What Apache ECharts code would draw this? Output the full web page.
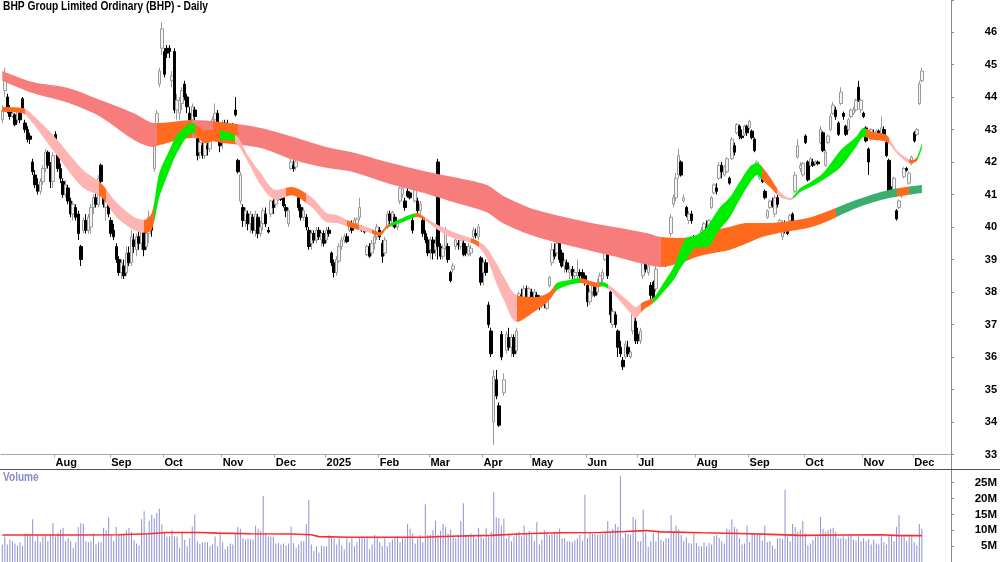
<!DOCTYPE html>
<html>
<head>
<meta charset="utf-8">
<title>BHP Group Limited Ordinary (BHP) - Daily</title>
<script src="https://cdn.jsdelivr.net/npm/echarts@6/dist/echarts.min.js"></script>
<style>
  html, body { margin: 0; padding: 0; background: #fff; }
  #chart { width: 1000px; height: 562px; }
</style>
</head>
<body>
<div id="chart"></div>
<script>
// daily bars: [open, close, low, high, volume in millions], one array per month
const jul24 = [
  [43.3,43.6,43.2,43.75,5.5],[44.2,44.7,44.0,44.9,8.0],[44.0,43.55,43.5,44.1,5.5],[43.6,43.4,43.3,43.75,7.0],
  [43.4,43.5,43.35,43.6,6.5],[43.45,43.15,43.1,43.5,5.8],[43.3,43.6,43.2,43.65,5.2],[43.5,43.3,43.2,43.6,6.2],
  [43.95,43.6,43.55,44.0,5.0],[43.2,43.0,42.9,43.3,9.0],[43.0,42.7,42.6,43.1,9.0],[42.8,42.7,42.55,42.9,9.0],
  [42.0,41.7,41.6,42.1,13.5],[41.6,41.3,41.2,41.75,6.5],[41.3,41.1,41.0,41.5,8.5],[41.1,41.4,41.0,41.5,6.2],
  [41.4,41.8,41.3,41.9,8.0],[41.8,42.3,41.7,42.4,8.5],[42.3,41.9,41.8,42.35,6.5],[41.9,41.4,41.2,42.0,8.8],
  [41.4,42.2,41.2,42.3,12.3]
];
const aug24 = [
  [42.85,42.5,42.45,42.95,8.0],[42.3,41.8,41.7,42.4,9.2],[41.8,41.5,41.35,41.95,10.2],[41.4,41.0,40.9,41.5,10.8],
  [41.0,41.3,40.9,41.45,6.5],[41.2,40.8,40.7,41.3,7.5],[40.8,40.4,40.3,40.9,6.5],[40.4,40.7,40.2,40.8,4.5],
  [40.6,40.3,40.2,40.7,6.2],[40.4,39.8,39.6,40.5,11.0],[39.4,39.0,38.8,39.45,12.2],[39.9,40.2,39.8,40.3,12.0],
  [40.2,39.9,39.8,40.4,6.5],[39.9,40.3,39.8,40.4,6.2],[40.0,40.6,39.8,40.7,6.5],[40.6,40.9,40.4,41.0,9.0],
  [40.9,40.7,40.6,41.1,5.5],[40.7,41.5,40.6,41.6,6.2],[41.9,41.4,41.3,41.95,6.2],[41.0,40.7,40.6,41.1,10.8],
  [40.6,40.8,40.2,40.9,10.0],[40.7,40.4,40.3,40.8,14.0]
];
const sep24 = [
  [40.2,39.8,39.7,40.3,8.5],[39.9,39.7,39.6,40.1,6.5],[39.4,39.0,38.9,39.5,11.0],[39.0,38.6,38.5,39.1,8.8],
  [38.6,38.9,38.4,39.0,8.8],[38.8,38.5,38.4,39.0,9.0],[38.6,39.2,38.5,39.4,10.0],[39.2,38.9,38.8,39.4,10.7],
  [38.9,39.7,38.8,39.9,9.5],[39.6,39.4,39.2,39.8,7.0],[39.3,39.7,39.1,39.8,5.8],[39.7,39.5,39.3,39.9,5.2],
  [39.5,39.9,39.3,40.1,13.5],[39.9,39.3,39.1,40.0,16.0],[39.4,39.8,39.3,40.0,9.0],[39.8,40.3,39.5,40.5,13.0],
  [40.2,39.9,39.7,40.4,14.8],[41.8,42.7,41.7,42.8,13.8],[42.9,43.5,42.8,43.6,15.5],[44.4,44.8,44.3,44.9,16.8],
  [45.5,46.1,45.3,46.3,11.8]
];
const oct24 = [
  [45.4,44.7,44.6,45.5,9.5],[45.5,45.35,45.2,45.6,8.0],[45.5,45.4,45.2,45.6,8.0],[44.5,44.65,44.3,44.8,10.0],
  [45.4,43.6,43.5,45.5,8.0],[43.6,43.9,43.3,44.1,8.0],[43.5,43.9,43.3,44.0,4.5],[43.8,44.2,43.6,44.3,9.5],
  [44.4,44.0,43.9,44.5,7.0],[44.0,43.7,43.5,44.1,5.0],[43.5,43.3,43.2,43.7,7.5],[43.3,43.7,43.2,43.8,11.2],
  [43.6,43.4,43.2,43.7,15.0],[42.9,42.2,42.05,43.0,6.5],[42.3,42.6,42.1,42.7,5.8],[42.5,42.2,42.1,42.6,6.2],
  [42.2,42.6,42.1,42.7,6.2],[42.5,42.4,42.2,42.6,6.2],[42.4,42.7,42.3,42.8,5.0],[42.9,43.3,42.8,43.4,5.5],
  [43.3,43.5,43.0,43.8,8.0],[43.5,42.9,42.8,43.6,5.0],[42.9,42.5,42.3,43.1,9.5]
];
const nov24 = [
  [42.6,43.2,42.4,43.3,6.2],[43.2,42.9,42.6,43.3,4.0],[42.9,42.7,42.6,43.3,5.0],[42.8,43.1,42.7,43.2,5.8],
  [43.0,42.9,42.7,43.2,5.5],[43.6,43.45,43.4,44.0,9.0],[42.05,41.7,41.65,42.1,11.0],[40.8,41.6,40.7,41.7,10.5],
  [40.6,40.2,40.0,40.7,7.5],[40.2,40.5,40.0,40.6,7.0],[40.4,40.1,39.9,40.5,7.5],[40.1,40.4,39.8,40.5,7.2],
  [40.3,39.9,39.8,40.4,7.0],[39.9,40.4,39.7,40.5,11.5],[40.3,39.8,39.65,40.4,10.5],[39.8,40.0,39.7,40.2,9.8],
  [40.1,40.5,39.9,40.6,20.8],[40.4,40.1,40.0,40.6,9.0],[39.9,39.85,39.8,40.0,8.0],[40.4,40.8,40.3,40.85,8.0],
  [40.8,40.6,40.4,40.9,8.0]
];
const dec24 = [
  [40.7,40.9,40.6,41.0,5.8],[40.9,41.05,40.8,41.1,6.0],[41.0,40.85,40.8,41.1,5.5],[40.9,40.65,40.6,40.95,5.8],
  [40.6,40.5,40.3,40.7,5.2],[40.1,40.5,40.0,40.6,5.8],[41.8,42.0,41.75,42.1,11.2],[41.9,41.8,41.7,42.05,6.0],
  [41.85,42.0,41.75,42.1,4.5],[40.9,40.6,40.5,41.0,5.5],[40.6,40.3,40.2,40.7,6.5],[40.3,40.5,40.2,40.6,6.5],
  [40.3,40.0,39.9,40.4,12.0],[39.9,39.4,39.3,40.0,19.5],[39.5,39.8,39.3,39.9,5.5],[39.8,39.6,39.5,39.9,3.5],
  [39.6,39.9,39.5,40.0,5.0],[39.9,39.7,39.6,40.0,3.0],[39.6,39.8,39.4,39.85,5.2],[39.8,39.5,39.4,39.9,5.0]
];
const jan25 = [
  [39.6,39.9,39.5,40.0,5.0],[39.9,39.8,39.7,40.0,8.5],[39.2,38.9,38.8,39.25,8.0],[38.9,38.6,38.45,39.0,7.5],
  [38.6,39.0,38.5,39.1,5.5],[38.95,39.4,38.9,39.5,7.5],[39.4,39.6,39.3,39.7,5.2],[39.6,39.7,39.5,39.8,4.0],
  [39.7,39.55,39.5,39.8,7.5],[39.9,40.1,39.85,40.15,6.2],[40.1,39.9,39.8,40.2,7.5],[40.0,40.2,39.95,40.3,5.0],
  [40.1,40.25,40.0,40.3,6.2],[40.3,40.6,40.2,40.9,7.5],[40.0,39.9,39.85,40.05,8.0],[39.95,39.85,39.8,40.0,7.5],
  [39.15,39.4,39.1,39.45,8.0],[39.4,39.1,39.05,39.5,4.0],[39.2,39.5,39.1,39.6,5.5],[39.5,39.7,39.3,39.8,8.5],
  [39.7,40.0,39.6,40.1,8.0]
];
const feb25 = [
  [39.9,39.7,39.6,40.0,6.2],[39.5,39.1,38.9,39.6,5.0],[39.2,39.6,39.1,39.7,7.5],[40.0,40.4,39.95,40.5,5.0],
  [40.4,40.2,40.0,40.5,6.2],[40.1,40.45,40.0,40.5,7.2],[40.3,40.0,39.95,40.4,8.0],[40.0,40.1,39.9,40.2,8.0],
  [40.8,41.2,40.7,41.3,6.2],[41.0,41.2,40.9,41.5,7.5],[40.8,40.6,40.5,40.9,7.5],[41.1,40.95,40.9,41.2,12.0],
  [41.05,40.9,40.85,41.1,10.5],[40.2,39.9,39.8,40.3,9.0],[40.8,41.2,40.75,41.3,5.8],[40.8,40.5,40.4,40.9,7.5],
  [40.5,40.7,40.4,40.8,8.5],[40.2,39.8,39.7,40.3,6.2],[39.8,39.6,39.5,39.9,18.2],[39.6,39.2,39.1,39.7,8.5]
];
const mar25 = [
  [39.3,39.6,39.0,39.7,8.5],[39.6,39.2,39.0,39.7,10.0],[39.3,39.5,39.1,39.7,13.0],[42.0,39.4,39.0,42.1,8.5],
  [39.4,39.1,39.0,39.5,9.8],[39.1,39.35,39.0,39.45,12.0],[39.4,39.9,39.3,40.0,11.0],[39.4,39.0,38.9,39.5,9.0],
  [38.6,38.35,38.3,38.65,10.2],[38.7,38.8,38.6,38.9,8.0],[39.4,39.6,39.3,39.7,7.5],[39.5,39.45,39.3,39.6,8.5],
  [39.4,39.6,39.3,39.7,12.8],[39.5,39.15,39.1,39.6,18.5],[39.4,39.2,39.1,39.5,8.5],[39.15,39.4,39.1,39.5,8.0],
  [39.2,39.35,39.1,39.45,9.0],[39.7,39.9,39.6,40.0,8.0],[39.8,39.75,39.65,39.95,7.5],[39.7,40.0,39.6,40.1,10.8],
  [39.05,38.3,38.2,39.1,8.0]
];
const apr25 = [
  [38.6,38.9,38.2,39.0,7.5],[38.9,38.6,38.5,39.0,10.8],[37.6,37.0,36.9,37.7,8.0],[36.8,36.1,36.0,36.9,9.5],
  [34.0,35.4,33.3,35.6,22.0],[35.3,34.8,34.7,35.6,14.0],[34.5,33.9,33.85,34.6,13.8],[36.7,36.0,35.9,36.8,11.5],
  [34.9,35.3,34.8,35.5,13.7],[36.2,36.7,36.1,36.8,7.5],[36.6,36.3,36.2,36.9,9.0],[36.3,36.6,36.0,36.7,6.5],
  [36.6,36.1,36.0,36.7,8.0],[36.2,36.8,36.1,36.9,9.0],[37.7,37.95,37.6,38.0,9.5],[37.9,37.7,37.6,38.1,8.0],
  [37.8,38.1,37.7,38.2,11.5],[38.1,37.85,37.75,38.2,8.8],[37.8,38.1,37.5,38.15,9.8]
];
const may25 = [
  [38.0,37.6,37.5,38.1,8.5],[37.7,38.0,37.6,38.1,6.5],[37.9,37.7,37.6,38.0,12.5],[37.7,37.55,37.45,37.9,5.5],
  [37.6,37.8,37.5,37.9,7.0],[37.8,37.6,37.5,37.9,10.0],[37.5,37.7,37.45,37.75,9.5],[38.2,38.45,38.15,38.5,8.5],
  [38.9,39.3,38.8,39.5,8.8],[39.3,39.1,39.0,39.5,9.5],[39.2,39.5,39.1,39.6,9.5],[39.5,39.0,38.9,40.0,10.5],
  [39.2,38.8,38.75,39.3,7.5],[38.8,38.95,38.6,39.0,7.5],[38.9,38.7,38.6,39.0,6.5],[38.6,38.7,38.4,38.8,6.5],
  [38.7,38.5,38.4,38.8,6.2],[38.5,38.6,38.35,38.7,6.8],[38.5,38.6,38.4,39.0,7.5],[38.6,38.5,38.4,38.7,8.5],
  [38.6,38.4,38.3,38.7,6.8],[38.5,38.3,38.2,38.6,21.2]
];
const jun25 = [
  [38.2,37.7,37.55,38.3,7.5],[37.7,38.0,37.6,38.1,9.2],[38.0,38.2,37.85,38.3,8.8],[38.2,37.9,37.85,38.3,8.8],
  [38.0,38.3,37.9,38.4,8.5],[38.3,38.5,38.2,38.6,8.8],[38.4,38.6,38.3,38.7,8.8],[39.0,39.3,38.95,39.4,9.2],
  [39.2,38.5,38.4,39.25,12.8],[38.0,37.3,37.05,38.05,9.2],[37.0,37.4,36.9,37.5,10.5],[37.3,37.0,36.9,37.4,12.0],
  [36.8,36.3,36.0,36.85,11.0],[36.3,36.1,36.0,36.5,27.0],[35.9,35.7,35.6,36.0,7.5],[36.0,36.4,35.95,36.5,9.2],
  [36.3,36.1,36.0,36.5,8.8],[36.0,36.15,35.95,36.2,8.5],[36.8,37.4,36.7,37.5,14.2],[37.1,36.5,36.4,37.2,13.5]
];
const jul25 = [
  [36.7,36.5,36.4,36.9,6.5],[36.5,36.8,36.4,36.9,6.5],[38.5,39.2,38.4,39.3,16.5],[38.9,38.7,38.6,39.0,9.2],
  [38.6,38.8,38.5,38.9,4.8],[38.2,37.9,37.75,38.3,6.5],[38.3,37.8,37.75,38.35,9.2],[38.1,38.7,38.0,38.8,6.5],
  [39.3,39.6,39.25,39.7,9.5],[39.5,39.4,39.3,39.6,7.0],[39.6,39.25,39.2,39.65,6.5],[39.2,38.9,38.77,39.3,7.5],
  [38.9,39.3,38.8,39.4,7.5],[39.8,40.3,39.7,40.4,14.8],[40.7,40.9,40.6,41.0,9.8],[40.9,41.5,40.8,41.66,11.5],
  [41.6,42.2,41.5,42.4,10.2],[42.0,41.6,41.55,42.05,8.5],[40.8,40.9,40.75,41.0,6.5],[40.6,40.35,40.3,40.65,7.8],
  [40.2,40.4,40.1,40.5,6.0],[40.4,40.2,40.1,40.5,5.8],[39.7,39.4,39.2,39.75,9.0]
];
const aug25 = [
  [39.3,39.6,39.2,39.7,6.0],[39.4,39.55,39.35,39.65,5.0],[39.7,39.9,39.6,40.0,5.0],[39.8,40.1,39.7,40.15,6.2],
  [40.0,39.9,39.8,40.2,5.0],[40.0,40.2,39.95,40.25,6.0],[40.6,40.9,40.55,40.95,5.5],[41.05,41.3,41.0,41.35,8.2],
  [41.2,41.1,41.0,41.35,8.5],[41.5,41.9,41.45,42.0,7.5],[41.9,41.7,41.5,42.0,6.5],[41.6,41.85,41.55,41.9,5.8],
  [41.7,42.1,41.66,42.15,10.5],[41.5,41.35,41.3,41.55,10.2],[42.1,42.7,42.06,42.77,13.5],[42.5,42.3,42.2,42.6,11.0],
  [42.9,43.15,42.85,43.2,10.5],[43.1,42.8,42.7,43.15,7.5],[42.8,42.75,42.7,43.0,5.5],[42.85,43.1,42.8,43.15,5.8],
  [43.1,42.9,42.8,43.15,11.5]
];
const sep25 = [
  [43.05,43.25,43.0,43.3,6.2],[42.95,42.75,42.7,43.0,8.8],[42.7,42.35,42.3,42.75,8.8],[41.8,42.0,41.75,42.05,8.5],
  [41.5,41.65,41.45,41.7,8.5],[41.65,41.4,41.35,41.7,6.8],[41.1,40.9,40.85,41.15,11.5],[40.3,40.5,40.25,40.55,6.2],
  [40.6,40.8,40.55,40.85,6.5],[40.8,40.65,40.6,40.9,5.2],[40.4,40.9,40.3,41.0,4.2],[40.9,40.7,40.6,41.0,7.5],
  [40.0,40.2,39.95,40.25,7.5],[39.7,40.1,39.6,40.2,7.2],[40.1,39.9,39.8,40.2,22.8],[40.0,39.8,39.75,40.05,8.0],
  [40.2,40.35,40.15,40.4,6.5],[40.4,40.05,40.0,40.45,12.0],[41.1,41.6,41.05,41.7,11.0],[42.15,42.5,42.1,42.7,9.5],
  [41.8,41.9,41.7,42.0,10.2],[41.6,41.95,41.55,42.0,12.8]
];
const oct25 = [
  [42.8,42.6,42.55,42.85,9.0],[42.0,41.45,41.4,42.05,5.2],[41.9,42.1,41.85,42.15,5.8],[42.0,41.9,41.85,42.1,7.0],
  [41.95,42.0,41.9,42.05,8.0],[42.0,41.95,41.9,42.05,8.5],[42.6,43.0,42.55,43.1,14.2],[42.9,42.35,42.3,42.95,10.5],
  [41.9,42.3,41.85,42.4,9.5],[42.6,42.8,42.55,42.85,10.0],[43.0,43.4,42.95,43.5,10.5],[43.5,43.75,43.45,43.85,10.8],
  [43.6,43.4,43.3,43.7,9.5],[43.2,42.85,42.8,43.25,7.5],[43.8,44.15,43.75,44.3,7.5],[43.5,43.4,43.3,43.55,8.0],
  [43.1,42.85,42.8,43.15,7.2],[43.0,43.3,42.95,43.35,8.0],[43.4,43.6,43.35,43.65,8.8],[43.5,43.6,43.45,43.7,7.0],
  [43.6,43.9,43.55,43.95,6.8],[44.3,43.9,43.85,44.5,8.0],[43.6,43.9,43.5,43.95,6.5]
];
const nov25 = [
  [43.5,43.4,43.35,43.55,7.5],[43.05,42.65,42.6,43.1,6.5],[42.4,42.0,41.6,42.45,7.2],[42.7,43.0,42.65,43.05,5.5],
  [42.9,42.75,42.7,43.0,7.0],[42.75,42.95,42.7,43.0,5.8],[42.95,42.75,42.7,43.0,5.5],[42.8,43.05,42.75,43.4,8.0],
  [43.0,42.85,42.8,43.1,6.2],[42.6,42.2,42.15,42.65,5.5],[42.05,40.95,40.9,42.1,8.5],[41.2,41.1,41.0,41.25,8.8],
  [41.1,41.5,41.05,41.55,6.5],[40.5,40.25,40.2,40.55,11.0],[40.6,40.8,40.55,40.85,14.8],[40.95,41.0,40.9,41.05,8.0],
  [41.55,41.8,41.5,41.85,8.0],[41.8,41.75,41.7,41.85,6.5],[41.35,41.65,41.3,41.7,8.0],[41.95,42.15,41.9,42.2,8.0]
];
const dec25 = [
  [42.9,42.65,42.6,42.95,6.2],[42.85,43.0,42.8,43.05,5.2],[43.8,44.4,43.75,44.5,12.0],[44.5,44.8,44.45,44.9,10.5]
];

// moving-average ribbons: [day index, lower edge, upper edge]
const slowBand = [
  [0,44.5,44.8],[12,44.12,44.46],[26,43.82,44.28],[39,43.38,43.9],[52,42.68,43.5],[60,42.46,43.2],
  [62,42.52,43.2],[75,42.74,43.29],[86,42.6,43.23],[102,42.43,43.05],[115,42.06,42.77],[128,41.82,42.46],
  [138,41.7,42.3],[152,41.35,42.0],[165,41.08,41.75],[178,40.77,41.54],[191,40.46,41.3],[198,40.1,40.95],
  [211,39.69,40.52],[231,39.29,40.15],[244,39.05,39.97],[255,38.83,39.8],[260,38.77,39.69],[268,38.9,39.66],
  [274,39.08,39.75],[281,39.2,39.91],[287,39.29,40.0],[294,39.5,40.12],[300,39.69,40.12],[307,39.82,40.15],
  [318,39.97,40.28],[324,40.12,40.43],[337,40.58,40.83],[350,40.89,41.14],[363,41.05,41.29]
];
const fastBand = [
  [0,43.54,43.69],[8,43.5,43.66],[12,43.2,43.45],[19,42.46,42.92],[26,41.75,42.28],[32,41.2,41.75],
  [39,40.92,41.35],[45,40.31,40.77],[52,39.91,40.31],[56,39.82,40.22],[59,39.91,40.43],[62,40.92,41.66],
  [66,41.75,42.37],[69,42.28,42.83],[75,42.89,43.2],[80,42.58,42.98],[85,42.68,42.98],[90,42.68,42.89],
  [93,42.52,42.77],[97,42.0,42.2],[102,41.29,41.66],[108,40.83,41.14],[114,40.98,41.23],[122,40.62,40.92],
  [128,40.15,40.43],[132,40.12,40.37],[138,39.97,40.15],[145,39.82,39.97],[149,39.72,39.84],[152,39.97,40.06],
  [158,40.15,40.28],[164,40.31,40.43],[166,40.25,40.34],[172,39.91,40.06],[178,39.66,39.85],[187,39.45,39.6],
  [191,39.08,39.38],[195,38.28,38.89],[198,37.75,38.46],[203,37.08,37.91],[211,37.45,37.85],[216,37.75,38.0],
  [219,38.06,38.28],[224,38.22,38.37],[228,38.28,38.43],[235,38.15,38.28],[237,38.18,38.31],[241,37.97,38.12],
  [248,37.35,37.66],[250,37.2,37.54],[253,37.45,37.69],[257,37.66,37.82],[261,38.0,38.28],[265,38.37,38.77],
  [268,38.77,39.38],[270,38.98,39.66],[274,39.38,39.75],[278,39.38,40.0],[283,39.91,40.58],[287,40.28,40.89],
  [291,40.83,41.38],[295,41.35,41.85],[298,41.6,41.97],[300,41.45,41.85],[303,41.23,41.54],[307,40.92,41.08],
  [311,40.83,40.89],[315,41.08,41.2],[319,41.23,41.38],[324,41.45,41.66],[331,41.85,42.37],[337,42.46,42.77],
  [340,42.77,43.05],[344,42.68,42.92],[349,42.62,42.83],[353,42.28,42.37],[357,42.0,42.12],[359,41.97,42.06],
  [361,42.03,42.15],[363,42.43,42.58]
];
// ribbon state from a day index onwards
const slowTrend = [[0,'down'],[61,'flat'],[75,'down'],[83,'flat'],[93,'down'],[260,'flat'],[329,'up'],[353,'flat'],[358,'up']];
const fastTrend = [[0,'flat'],[9,'down'],[38,'flat'],[41,'down'],[56,'flat'],[60,'up'],[76,'flat'],[86,'up'],
  [92,'down'],[112,'flat'],[120,'down'],[136,'flat'],[141,'down'],[146,'flat'],[153,'up'],[163,'flat'],
  [167,'down'],[185,'flat'],[188,'down'],[203,'flat'],[218,'up'],[228,'flat'],[236,'up'],[239,'down'],
  [252,'flat'],[257,'up'],[300,'flat'],[306,'down'],[312,'up'],[341,'flat'],[350,'down'],[358,'flat'],[361,'up']];

// volume moving average: [day index, millions]
const volumeAvg = [
  [0,8.5],[15,8.5],[31,8.5],[46,8.6],[58,8.9],[65,9.3],[78,9.3],[85,9.1],[98,8.9],[114,8.8],[122,8.6],
  [125,8.0],[137,7.8],[153,7.8],[166,7.8],[177,8.1],[193,8.4],[206,8.9],[220,9.2],[236,9.3],[246,9.6],
  [254,9.9],[260,9.5],[276,9.2],[291,9.0],[303,8.7],[315,8.4],[331,8.5],[347,8.6],[354,8.3],[363,8.3]
];

const priceTicks = [33, 34, 35, 36, 37, 38, 39, 40, 41, 42, 43, 44, 45, 46];
const volumeTicks = [5, 10, 15, 20, 25];
const monthNames = ['Jan','Feb','Mar','Apr','May','Jun','Jul','Aug','Sep','Oct','Nov','Dec'];
const holidays = ['2024-12-25','2024-12-26','2025-01-01','2025-01-27','2025-04-18','2025-04-21','2025-04-25','2025-06-09'];

const bars = [].concat(jul24, aug24, sep24, oct24, nov24, dec24, jan25, feb25, mar25,
  apr25, may25, jun25, jul25, aug25, sep25, oct25, nov25, dec25);

// trading days from 3 Jul 2024, with some empty room on the right
const SLOTS = 375;
const dates = [];
const d = new Date(Date.UTC(2024, 6, 3));
while (dates.length < SLOTS) {
  const s = d.toISOString().slice(0, 10);
  const wd = d.getUTCDay();
  if (wd !== 0 && wd !== 6 && holidays.indexOf(s) < 0) dates.push(s);
  d.setUTCDate(d.getUTCDate() + 1);
}
const isMonthStart = i => i > 0 && dates[i].slice(5, 7) !== dates[i - 1].slice(5, 7);

const FONT = '"Liberation Sans", Arial, sans-serif';
const slowColors = { down: '#f77c7c', flat: '#ff6a1c', up: '#3aae6c' };
const fastColors = { down: '#ffb4b4', flat: '#ff6a1c', up: '#00ec00' };

function pieces(trend, colors) {
  return trend.map((t, k) => ({
    gte: t[0],
    lt: k + 1 < trend.length ? trend[k + 1][0] : 1000,
    color: colors[t[1]]
  }));
}

function bandSeries(band, name) {
  return [{
    name: name + 'Low', type: 'line', xAxisIndex: 0, yAxisIndex: 0, stack: name,
    data: band.map(b => [b[0], b[1]]), symbol: 'none', smooth: 0.3,
    lineStyle: { opacity: 0 }, silent: true
  }, {
    name: name, type: 'line', xAxisIndex: 0, yAxisIndex: 0, stack: name,
    data: band.map(b => [b[0], +(b[2] - b[1]).toFixed(3)]), symbol: 'none', smooth: 0.3,
    lineStyle: { width: 0 }, areaStyle: { opacity: 1 }, silent: true
  }];
}

const chart = echarts.init(document.getElementById('chart'));
const option = {
  animation: false,
  backgroundColor: '#ffffff',
  grid: [
    { left: 1, top: 0, width: 950, height: 454.5 },
    { left: 1, top: 469, width: 950, height: 96.8 }
  ],
  xAxis: [{
    type: 'category', gridIndex: 0, data: dates, boundaryGap: true,
    axisLine: { lineStyle: { color: '#a8a8a8', width: 1 } },
    axisTick: { show: true, length: 3, interval: i => isMonthStart(i), lineStyle: { color: '#a8a8a8' } },
    axisLabel: {
      interval: i => isMonthStart(i), align: 'left', margin: 3,
      fontFamily: FONT, fontSize: 11, fontWeight: 'bold', color: '#000',
      formatter: v => v.slice(5, 7) === '01' ? v.slice(0, 4) : monthNames[+v.slice(5, 7) - 1]
    },
    splitLine: { show: false }
  }, {
    type: 'category', gridIndex: 1, data: dates, boundaryGap: true,
    axisLine: { show: false }, axisTick: { show: false }, axisLabel: { show: false }, splitLine: { show: false }
  }],
  yAxis: [{
    type: 'value', gridIndex: 0, position: 'right', min: 33, max: 46.985, interval: 1,
    axisLine: { show: false },
    axisTick: { show: true, length: 3, lineStyle: { color: '#8c8c8c' } },
    axisLabel: {
      align: 'right', margin: 46, fontFamily: FONT, fontSize: 11, fontWeight: 'bold', color: '#000',
      formatter: v => priceTicks.indexOf(v) >= 0 ? String(v) : ''
    },
    splitLine: { show: false }
  }, {
    type: 'value', gridIndex: 1, position: 'right', min: 0, max: 29.3, interval: 5,
    axisLine: { show: false },
    axisTick: { show: true, length: 3, lineStyle: { color: '#8c8c8c' } },
    axisLabel: {
      align: 'right', margin: 46, fontFamily: FONT, fontSize: 11.5, fontWeight: 'bold', color: '#000',
      formatter: v => volumeTicks.indexOf(v) >= 0 ? v + 'M' : ''
    },
    splitLine: { show: false }
  }],
  visualMap: [
    { type: 'piecewise', show: false, seriesIndex: 1, dimension: 0, pieces: pieces(slowTrend, slowColors) },
    { type: 'piecewise', show: false, seriesIndex: 3, dimension: 0, pieces: pieces(fastTrend, fastColors) }
  ],
  graphic: [
    { type: 'line', shape: { x1: 951.5, y1: 0, x2: 951.5, y2: 562 }, style: { stroke: '#8c8c8c', lineWidth: 1 }, z: 100 },
    { type: 'line', shape: { x1: 0, y1: 469.5, x2: 1000, y2: 469.5 }, style: { stroke: '#505050', lineWidth: 1 }, z: 100 },
    {
      type: 'text', x: 3, y: 0, scaleX: 0.82, z: 100,
      style: { text: 'BHP Group Limited Ordinary (BHP) - Daily', font: 'bold 12.5px ' + FONT, fill: '#000', verticalAlign: 'top' }
    },
    {
      type: 'text', x: 3, y: 472, scaleX: 0.84, z: 100,
      style: { text: 'Volume', font: 'bold 12px ' + FONT, fill: '#8b8bcb', verticalAlign: 'top' }
    }
  ],
  series: [
    ...bandSeries(slowBand, 'slow'),
    ...bandSeries(fastBand, 'fast'),
    {
      name: 'BHP', type: 'candlestick', xAxisIndex: 0, yAxisIndex: 0,
      data: bars.map(b => b.slice(0, 4)), barWidth: 3,
      itemStyle: { color: '#f4f4f4', color0: '#000000', borderColor: '#9a9a9a', borderColor0: '#000000', borderWidth: 1 }
    },
    {
      name: 'Volume', type: 'bar', xAxisIndex: 1, yAxisIndex: 1,
      data: bars.map(b => b[4]), barWidth: 1, itemStyle: { color: '#9090d4' }
    },
    {
      name: 'Volume MA', type: 'line', xAxisIndex: 1, yAxisIndex: 1,
      data: volumeAvg, symbol: 'none', lineStyle: { color: '#ff2a2a', width: 1.6 }, z: 3
    }
  ]
};
chart.setOption(option);
</script>
</body>
</html>
